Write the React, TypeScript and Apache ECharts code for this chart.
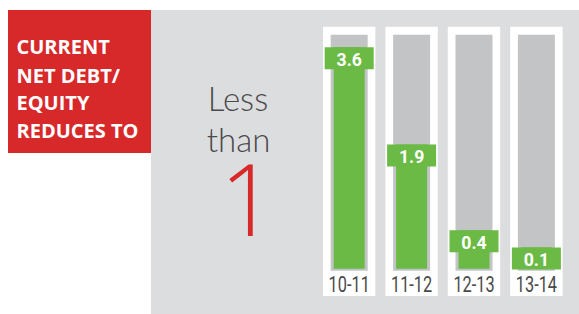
import React, { useEffect, useRef } from "react";
import * as echarts from "echarts";

const categories = ["10-11", "11-12", "12-13", "13-14"];
const netDebtEquity = [3.6, 1.9, 0.4, 0.1];
const headingLines = ["CURRENT", "NET DEBT/", "EQUITY", "REDUCES TO"];
const bigLines = ["Less", "than"];
const bigNumber = "1";

const RED = "#d7282a";
const PANEL = "#dcdddf";
const TRACK = "#c3c4c6";
const GREEN = "#6aba45";
const DARK = "#4a4a4a";

export default function App() {
  const ref = useRef<HTMLDivElement>(null);
  useEffect(() => {
    document.body.style.margin = "0";
    const chart = echarts.init(ref.current!, null, { renderer: "svg" });
    const headingY = [46.7, 75.8, 102.5, 130.8];
    const option: any = {
      animation: false,
      grid: { left: 318, right: 11.4, top: 26, bottom: 18 },
      xAxis: {
        type: "category",
        data: categories,
        show: false,
      },
      yAxis: { type: "value", min: -0.75, max: 3.97, show: false },
      graphic: {
        elements: [
          { type: "rect", z: -10, shape: { x: 151, y: 10, width: 428, height: 304 }, style: { fill: PANEL } },
          { type: "rect", z: -10, shape: { x: 8, y: 10, width: 143, height: 143 }, style: { fill: RED } },
          ...headingLines.map((t, i) => ({
            type: "text",
            z: 5,
            x: 16.5,
            y: headingY[i],
            style: {
              text: t,
              fill: "#ffffff",
              fontFamily: "Open Sans",
              fontWeight: 700,
              fontSize: 20,
              align: "left",
              verticalAlign: "middle",
            },
          })),
          {
            type: "text",
            z: 5,
            x: 238,
            y: 97.5,
            style: { text: bigLines[0], fill: DARK, fontFamily: "Lato", fontWeight: 300, fontSize: 33, lineHeight: 28, align: "center", verticalAlign: "middle" },
          },
          {
            type: "text",
            z: 5,
            x: 238.5,
            y: 139,
            style: { text: bigLines[1], fill: DARK, fontFamily: "Lato", fontWeight: 300, fontSize: 33, lineHeight: 28, align: "center", verticalAlign: "middle" },
          },
          {
            type: "text",
            z: 5,
            x: 248,
            y: 197,
            style: { text: bigNumber, fill: RED, fontFamily: "Open Sans", fontWeight: 300, fontSize: 99, lineHeight: 70, align: "center", verticalAlign: "middle" },
          },
        ],
      },
      series: [
        {
          type: "custom",
          data: netDebtEquity.map((v, i) => [i, v]),
          renderItem: (params: any, api: any) => {
            const idx = api.value(0);
            const v = api.value(1);
            const [cx, top] = api.coord([idx, v]);
            const cs = params.coordSys;
            const bottom = cs.y + cs.height;
            const colTop = cs.y + 0.7;
            const trackTop = colTop + 8;
            const trackBottom = bottom - 25.3;
            const barBottom = bottom - 27.3;
            return {
              type: "group",
              children: [
                { type: "rect", shape: { x: cx - 26.2, y: colTop, width: 52.4, height: bottom - colTop }, style: { fill: "#ffffff" } },
                { type: "rect", shape: { x: cx - 18.5, y: trackTop, width: 37, height: trackBottom - trackTop }, style: { fill: TRACK } },
                { type: "rect", shape: { x: cx - 15.5, y: top, width: 31, height: barBottom - top }, style: { fill: GREEN } },
                { type: "rect", shape: { x: cx - 24.5, y: top, width: 49, height: 22 }, style: { fill: GREEN } },
                {
                  type: "text",
                  x: cx,
                  y: top + 12,
                  scaleX: 0.93,
                  style: {
                    text: String(v),
                    fill: "#ffffff",
                    fontFamily: "Roboto",
                    fontWeight: 700,
                    fontSize: 19,
                    align: "center",
                    verticalAlign: "middle",
                  },
                },
                {
                  type: "text",
                  x: cx,
                  y: bottom - 11,
                  scaleX: 0.76,
                  style: {
                    text: categories[idx],
                    fill: DARK,
                    fontFamily: "Roboto",
                    fontSize: 21.5,
                    align: "center",
                    verticalAlign: "middle",
                  },
                },
              ],
            };
          },
        },
      ],
    };
    chart.setOption(option);
    return () => chart.dispose();
  }, []);
  return <div ref={ref} style={{ width: 579, height: 314 }} />;
}
